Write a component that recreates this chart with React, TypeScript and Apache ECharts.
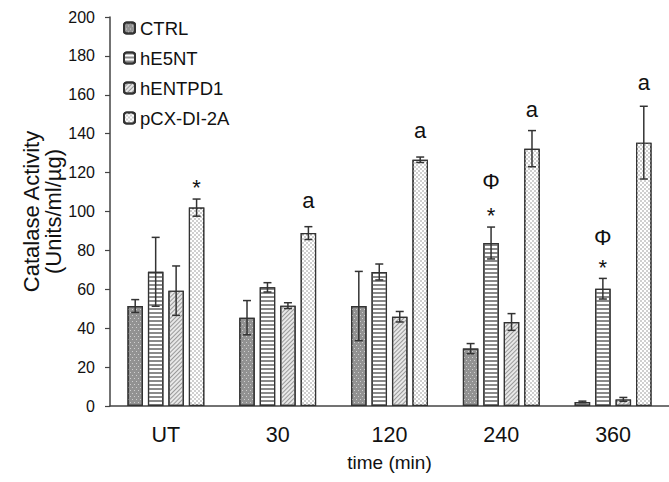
import React, { useEffect, useRef } from "react";
import * as echarts from "echarts";

const categories = ["UT", "30", "120", "240", "360"];
const seriesNames = ["CTRL", "hE5NT", "hENTPD1", "pCX-DI-2A"];

const ctrlValues = [51.4, 45.4, 51.4, 29.5, 2.1];
const ctrlErrors = [3.3, 8.8, 17.8, 2.6, 0.4];
const he5ntValues = [69.0, 61.0, 68.9, 83.8, 60.3];
const he5ntErrors = [17.7, 2.4, 4.1, 8.2, 5.3];
const hentpd1Values = [59.3, 51.6, 45.9, 43.2, 3.4];
const hentpd1Errors = [12.7, 1.5, 2.7, 4.3, 1.0];
const pcxValues = [102.0, 88.9, 126.6, 132.3, 135.4];
const pcxErrors = [4.4, 3.3, 1.4, 9.3, 18.7];

const yMin = 0;
const yMax = 200;
const yInterval = 20;

const annotationLabels = ["*", "a", "a", "Φ", "*", "a", "Φ", "*", "a"];
const annotationCategories = [0, 1, 2, 3, 3, 3, 4, 4, 4];
const annotationSeries = [3, 3, 3, 1, 1, 3, 1, 1, 3];
const annotationValues = [112.3, 105.4, 141.9, 115.2, 97.9, 152.2, 86.4, 71.2, 166.1];

const allValues = [ctrlValues, he5ntValues, hentpd1Values, pcxValues];
const allErrors = [ctrlErrors, he5ntErrors, hentpd1Errors, pcxErrors];

const FONT = "Liberation Sans, Arial, sans-serif";
const BAR_W = 15.5;
const BAR_GAP = 0.32;
const PITCH = BAR_W * (1 + BAR_GAP);
const offsetFor = (i: number) => (i - 1.5) * PITCH;

const styles = [
  {
    color: "#929292",
    decal: {
      symbol: "rect",
      symbolSize: 1,
      dashArrayX: [[1, 3], [0, 2, 1, 1]],
      dashArrayY: [1, 1.5],
      color: "#cfcfcf",
    },
  },
  {
    color: "#ffffff",
    decal: {
      symbol: "rect",
      symbolSize: 1,
      dashArrayX: [1, 0],
      dashArrayY: [1.3, 1.7],
      color: "#8a8a8a",
    },
  },
  {
    color: "#e8e8e8",
    decal: {
      symbol: "rect",
      symbolSize: 1,
      rotation: -Math.PI / 4,
      dashArrayX: [1, 0],
      dashArrayY: [1, 1.8],
      color: "#9a9a9a",
    },
  },
  {
    color: "#cfcfcf",
    decal: {
      symbol: "rect",
      symbolSize: 1,
      dashArrayX: [[2, 2], [0, 2, 2, 0]],
      dashArrayY: [2, 0],
      color: "#ffffff",
    },
  },
];

export default function App() {
  const ref = useRef<HTMLDivElement>(null);
  useEffect(() => {
    if (!ref.current) return;
    const chart = echarts.init(ref.current, null, { renderer: "svg" });

    const barSeries = seriesNames.map((name, i) => ({
      name,
      type: "bar",
      data: allValues[i],
      barWidth: BAR_W,
      barGap: `${BAR_GAP * 100}%`,
      z: 2,
      itemStyle: {
        color: styles[i].color,
        decal: styles[i].decal,
        borderColor: "#333",
        borderWidth: 1.2,
      },
    }));

    const errorSeries = seriesNames.map((name, i) => ({
      type: "custom",
      name: name + "-err",
      z: 5,
      silent: true,
      data: allValues[i].map((v, k) => [k, v, allErrors[i][k]]),
      renderItem: (params: any, api: any) => {
        const cat = api.value(0);
        const v = api.value(1);
        const e = api.value(2);
        const x = api.coord([cat, v])[0] + offsetFor(i);
        const top = api.coord([cat, v + e])[1];
        const bot = api.coord([cat, v - e])[1];
        const ls = { stroke: "#333", lineWidth: 1.5 };
        return {
          type: "group",
          children: [
            { type: "line", shape: { x1: x, y1: top, x2: x, y2: bot }, style: ls },
            { type: "line", shape: { x1: x - 4, y1: top, x2: x + 4, y2: top }, style: ls },
            { type: "line", shape: { x1: x - 4, y1: bot, x2: x + 4, y2: bot }, style: ls },
          ],
        };
      },
    }));

    const annotationSeriesObj = {
      type: "custom",
      name: "annotations",
      z: 6,
      silent: true,
      data: annotationValues.map((v, k) => [annotationCategories[k], v]),
      renderItem: (params: any, api: any) => {
        const k = params.dataIndex;
        const p = api.coord([api.value(0), api.value(1)]);
        return {
          type: "text",
          x: p[0] + offsetFor(annotationSeries[k]),
          y: p[1],
          style: {
            text: annotationLabels[k],
            fontSize: 22,
            fontFamily: FONT,
            fill: "#111",
            align: "center",
            verticalAlign: "middle",
          },
        };
      },
    };

    chart.setOption({
      animation: false,
      backgroundColor: "#ffffff",
      grid: { left: 110, top: 17, width: 570, height: 389, containLabel: false },
      legend: {
        data: seriesNames,
        orient: "vertical",
        left: 123,
        top: 18,
        padding: 0,
        itemWidth: 11,
        itemHeight: 11,
        itemGap: 10,
        textStyle: { fontSize: 18.5, fontFamily: FONT, color: "#111", lineHeight: 20 },
      },
      xAxis: {
        type: "category",
        data: categories,
        name: "time (min)",
        nameLocation: "middle",
        nameGap: 47,
        nameMoveOverlap: false,
        nameTextStyle: { fontSize: 19, fontFamily: FONT, color: "#111" },
        axisLine: { lineStyle: { color: "#444", width: 1.5 } },
        axisTick: { show: false },
        axisLabel: { fontSize: 21.5, fontFamily: FONT, color: "#111", margin: 18 },
      },
      yAxis: {
        type: "value",
        min: yMin,
        max: yMax,
        interval: yInterval,
        name: "Catalase Activity\n(Units/ml/µg)",
        nameLocation: "middle",
        nameGap: 46,
        nameMoveOverlap: false,
        nameTextStyle: { fontSize: 22, fontFamily: FONT, color: "#111", lineHeight: 22 },
        axisLine: { show: true, lineStyle: { color: "#444", width: 1.5 } },
        axisTick: { show: true, length: 5, lineStyle: { color: "#444", width: 1.2 } },
        axisLabel: { fontSize: 16, fontFamily: FONT, color: "#111", margin: 15 },
        splitLine: { show: false },
      },
      series: [...barSeries, ...errorSeries, annotationSeriesObj],
    });

    return () => chart.dispose();
  }, []);

  return (
    <div
      ref={ref}
      style={{ position: "fixed", left: 0, top: 0, width: 669, height: 482, overflow: "hidden", background: "#fff" }}
    />
  );
}
